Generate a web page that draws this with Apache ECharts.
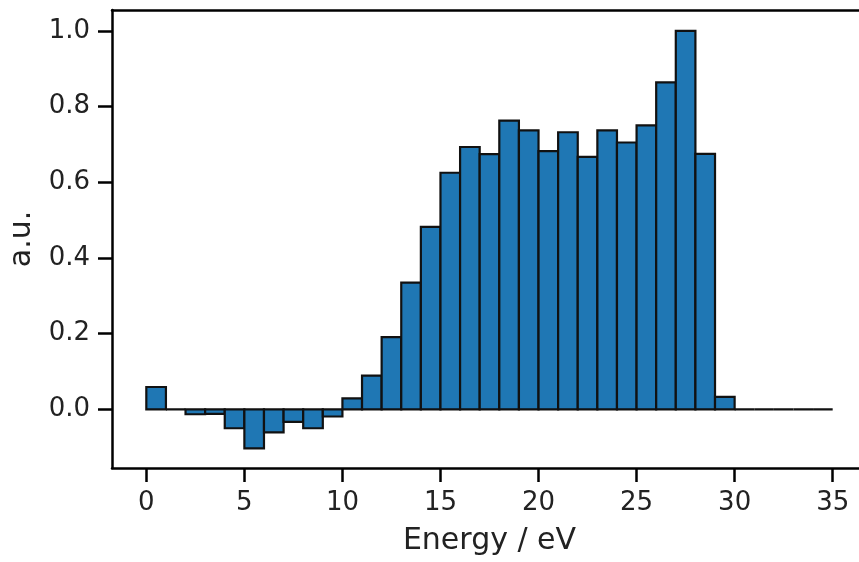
<!DOCTYPE html>
<html>
<head>
<meta charset="utf-8">
<script src="https://cdn.jsdelivr.net/npm/echarts@6/dist/echarts.min.js"></script>
<style>
  html, body { margin: 0; padding: 0; background: #fff; overflow: hidden; }
  #chart { width: 859px; height: 562px; }
</style>
</head>
<body>
<div id="chart"></div>
<script>
// Histogram bins (left edge, eV) and their intensities (a.u.)
const binStart = [0, 1, 2, 3, 4, 5, 6, 7, 8, 9, 10, 11, 12, 13, 14, 15, 16, 17,
  18, 19, 20, 21, 22, 23, 24, 25, 26, 27, 28, 29, 30, 31, 32, 33, 34];
const intensity = [0.059, 0.0, -0.013, -0.012, -0.05, -0.103, -0.061, -0.033, -0.05, -0.019,
  0.029, 0.089, 0.191, 0.335, 0.482, 0.625, 0.693, 0.674, 0.763, 0.737,
  0.682, 0.732, 0.667, 0.737, 0.705, 0.75, 0.864, 1.0, 0.675, 0.033,
  0, 0, 0, 0, 0];
const binWidth = 1;
const xTicks = [0, 5, 10, 15, 20, 25, 30, 35];
const yTicks = [0, 0.2, 0.4, 0.6, 0.8, 1.0];

const FONT = 'DejaVu Sans';
const TEXT = '#222';
const FS = 26;
const NAME_FS = 30;
const SPINE = { show: true, onZero: false, lineStyle: { color: '#000', width: 2.5 } };

const data = binStart.map((x, i) => [x, intensity[i]]);

const chart = echarts.init(document.getElementById('chart'), null, { renderer: 'canvas' });
chart.setOption({
  animation: false,
  backgroundColor: '#fff',
  grid: {
    // the plot area runs a little past the right edge of the figure
    left: 112, top: 10, right: -8, bottom: 94,
    outerBoundsMode: 'none', containLabel: false, show: false
  },
  xAxis: [{
    type: 'value', min: -1.75, max: 36.75, position: 'bottom',
    name: 'Energy / eV', nameLocation: 'middle', nameGap: 58,
    nameTextStyle: { fontFamily: FONT, fontSize: NAME_FS, color: TEXT },
    axisLine: SPINE,
    axisTick: { show: true, customValues: xTicks, length: 14, lineStyle: { color: '#000', width: 2.5 } },
    axisLabel: { customValues: xTicks, margin: 22, fontFamily: FONT, fontSize: FS, color: TEXT },
    splitLine: { show: false }
  }, {
    // top spine
    type: 'value', min: -1.75, max: 36.75, position: 'top',
    axisLine: SPINE, axisTick: { show: false }, axisLabel: { show: false }, splitLine: { show: false }
  }],
  yAxis: {
    type: 'value', min: -0.155, max: 1.055,
    name: 'a.u.', nameLocation: 'middle', nameGap: 75, nameRotate: 90,
    nameTextStyle: { fontFamily: FONT, fontSize: NAME_FS, color: TEXT },
    axisLine: SPINE,
    axisTick: { show: true, customValues: yTicks, length: 14, lineStyle: { color: '#000', width: 2.5 } },
    axisLabel: {
      customValues: yTicks, margin: 22, fontFamily: FONT, fontSize: FS, color: TEXT,
      formatter: v => v.toFixed(1)
    },
    splitLine: { show: false }
  },
  series: [{
    type: 'custom',
    xAxisIndex: 0,
    data: data,
    encode: { x: 0, y: 1 },
    renderItem: function (params, api) {
      const x0 = api.value(0);
      const v = api.value(1);
      const pTop = api.coord([x0, v]);
      const pBase = api.coord([x0 + binWidth, 0]);
      return {
        type: 'rect',
        shape: {
          x: pTop[0],
          y: Math.min(pTop[1], pBase[1]),
          width: pBase[0] - pTop[0],
          height: Math.abs(pBase[1] - pTop[1])
        },
        style: { fill: '#1f77b4', stroke: '#111', lineWidth: 2.2 }
      };
    }
  }]
});
</script>
</body>
</html>
